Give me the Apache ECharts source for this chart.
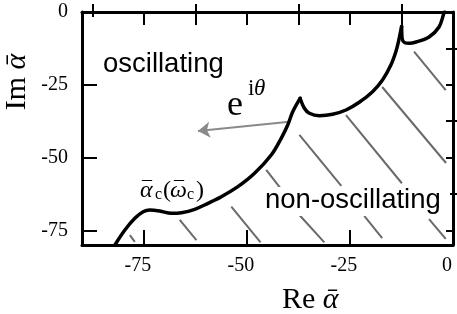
<!DOCTYPE html>
<html>
<head>
<meta charset="utf-8">
<script src="https://cdn.jsdelivr.net/npm/echarts@6/dist/echarts.min.js"></script>
<style>
html,body{margin:0;padding:0;background:#fff;}
#c{width:457px;height:314px;}
</style>
</head>
<body>
<div id="c"></div>
<script>
// ---- data ----
// critical curve alpha_c(omega_c), split at its two cusps
const branch1Re = [-82.02,-79.60,-77.18,-75.17,-73.55,-71.13,-68.30,-65.88,-62.66,-59.44,-56.20,-52.19,-48.14,-44.10,-41.68,-40.09,-38.88,-37.09];
const branch1Im = [-80.0,-74.85,-70.83,-68.57,-67.98,-68.33,-69.12,-68.91,-67.74,-65.68,-63.42,-59.98,-55.38,-49.10,-43.36,-38.80,-34.23,-29.63];
const branch2Re = [-37.09,-36.05,-34.84,-32.42,-29.20,-25.96,-22.74,-19.52,-17.10,-15.07,-13.86,-13.23,-12.65,-12.46];
const branch2Im = [-29.63,-33.06,-34.78,-35.61,-35.12,-33.65,-31.00,-27.36,-23.35,-18.20,-13.63,-10.20,-6.18,-4.98];
const branch3Re = [-12.46,-12.32,-11.70,-10.60,-8.95,-5.81,-3.39,-2.18,-2.05];
const branch3Im = [-4.98,-9.30,-10.55,-10.75,-10.30,-8.58,-5.15,-0.34,0.0];

const hatchStartRe = [-9.44,-17.18,-25.96,-5.81,-37.26,-21.53,-45.31,-37.26,-53.78,-66.29,-78.39];
const hatchStartIm = [-13.6,-25.75,-35.4,-71.1,-42.2,-70.0,-54.2,-69.7,-66.8,-71.4,-76.6];
const hatchEndRe   = [-1.77,-1.69,-12.41,-1.77,-27.10,-17.18,-41.69,-31.21,-46.69,-62.25,-77.18];
const hatchEndIm   = [-26.8,-51.85,-58.8,-77.9,-59.7,-77.6,-60.8,-79.1,-79.1,-78.3,-78.9];

const arrowRe = [-39.68, -61.86];
const arrowIm = [-37.67, -40.86];

const xTickLabels = [-75, -50, -25, 0];
const xMajorTicks = [-75, -50, -25];
const xMinorTicks = [-87.5, -62.5, -37.5, -12.5];
const xTopTicks = [-75, -62.5, -50, -37.5, -25, -12.5];
const xTopShortTicks = [-87.5];
const yTickLabels = [-75, -50, -25, 0];
const yMajorTicks = [-75, -50, -25];
const yMinorTicks = [-62.5, -37.5, -12.5];
const yRightTicks = [-75, -62.5, -50, -37.5, -25, -12.5];

const regionLabels = ['oscillating', 'non-oscillating'];

// ---- chart ----
const SERIF = '"Liberation Serif", "DejaVu Serif", serif';
const SANS = '"Liberation Sans", Arial, sans-serif';
const chart = echarts.init(document.getElementById('c'), null, {renderer: 'canvas'});

function xAx(pos, opts) {
  return Object.assign({
    type: 'value', min: -90, max: 0, position: pos,
    axisLine: {show: false}, splitLine: {show: false},
    axisLabel: {show: false}, axisTick: {show: false}
  }, opts);
}
function yAx(pos, opts) {
  return Object.assign({
    type: 'value', min: -80, max: 0, position: pos,
    axisLine: {show: false}, splitLine: {show: false},
    axisLabel: {show: false}, axisTick: {show: false}
  }, opts);
}
const lineS = {show: true, onZero: false, lineStyle: {color: '#000', width: 3}};
function tick(vals, len) {
  return {show: true, inside: true, length: len, customValues: vals, lineStyle: {color: '#000', width: 2}};
}
function branch(re, im) {
  return {
    type: 'line', xAxisIndex: 0, yAxisIndex: 0, z: 4,
    showSymbol: false, symbol: 'none', silent: true, smooth: 0.35,
    lineStyle: {color: '#000', width: 3.5, join: 'round', cap: 'round'},
    data: re.map((r, i) => [r, im[i]])
  };
}
function txt(x, y, s, font, extra) {
  return Object.assign({type: 'text', x: x, y: y, z: 10,
    style: {text: s, font: font, fill: '#000', verticalAlign: 'middle'}}, extra || {});
}

const hatchData = hatchStartRe.map((r, i) => ({coords: [[r, hatchStartIm[i]], [hatchEndRe[i], hatchEndIm[i]]]}));

chart.setOption({
  animation: false,
  backgroundColor: '#fff',
  grid: {left: 82, right: 4, top: 12, bottom: 69},
  xAxis: [
    xAx('bottom', {axisLine: lineS, axisTick: tick(xMajorTicks, 15),
      axisLabel: {show: true, customValues: xTickLabels, margin: 11, padding: [0, 12, 0, 0],
        fontFamily: SERIF, fontSize: 20, color: '#000'}}),
    xAx('bottom', {axisTick: tick(xMinorTicks, 8)}),
    xAx('top', {axisLine: lineS, axisTick: tick(xTopTicks, 13)}),
    xAx('top', {axisTick: tick(xTopShortTicks, 5)})
  ],
  yAxis: [
    yAx('left', {axisLine: lineS, axisTick: tick(yMajorTicks, 15),
      axisLabel: {show: true, customValues: yTickLabels, margin: 14, padding: [8, 0, 0, 0],
        fontFamily: SERIF, fontSize: 20, color: '#000'}}),
    yAx('left', {axisTick: tick(yMinorTicks, 8)}),
    yAx('right', {axisLine: lineS, axisTick: tick(yRightTicks, 7)})
  ],
  series: [
    {
      type: 'lines', coordinateSystem: 'cartesian2d', xAxisIndex: 0, yAxisIndex: 0,
      silent: true, z: 1,
      lineStyle: {color: '#6a6a6a', width: 2, opacity: 1},
      data: hatchData
    },
    {
      type: 'lines', coordinateSystem: 'cartesian2d', xAxisIndex: 0, yAxisIndex: 0,
      silent: true, z: 3,
      symbol: ['none', 'arrow'], symbolSize: [9, 12],
      lineStyle: {color: '#8a8a8a', width: 2, opacity: 1},
      data: [{coords: [[arrowRe[0], arrowIm[0]], [arrowRe[1], arrowIm[1]]]}]
    },
    branch(branch1Re, branch1Im),
    branch(branch2Re, branch2Im),
    branch(branch3Re, branch3Im)
  ],
  graphic: [
    txt(103, 64, regionLabels[0], '27.5px ' + SANS),
    {type: 'rect', x: 262, y: 187, z: 9, shape: {width: 188, height: 29}, style: {fill: '#fff'}},
    txt(265, 200, regionLabels[1], '27.5px ' + SANS),
    // e^{i theta}
    txt(227, 106, 'e', '36px ' + SERIF),
    txt(248, 89, 'i', '23px ' + SERIF),
    txt(254, 89, 'θ', 'italic 23px ' + SERIF),
    // alpha_c(omega_c)
    txt(140, 190.5, 'α', 'italic 24px ' + SERIF),
    txt(142, 191, '¯', '20px ' + SERIF),
    txt(155, 195, 'c', '16px ' + SERIF),
    txt(163, 190.5, '(', '24px ' + SERIF),
    txt(170, 190.5, 'ω', 'italic 24px ' + SERIF),
    txt(174, 191, '¯', '20px ' + SERIF),
    txt(187, 195, 'c', '16px ' + SERIF),
    txt(196, 190.5, ')', '24px ' + SERIF),
    // axis names
    {type: 'text', x: 282, y: 300, z: 10, style: {
      text: '{r|Re }{a|α\u0304}', fill: '#000', verticalAlign: 'middle',
      rich: {r: {fontFamily: SERIF, fontSize: 30, fill: '#000'}, a: {fontFamily: SERIF, fontSize: 30, fontStyle: 'italic', fill: '#000'}}}},
    {type: 'text', x: 17, y: 82, rotation: Math.PI / 2, z: 10, style: {
      text: '{r|Im }{a|α\u0304}', fill: '#000', align: 'center', verticalAlign: 'middle',
      rich: {r: {fontFamily: SERIF, fontSize: 30, fill: '#000'}, a: {fontFamily: SERIF, fontSize: 30, fontStyle: 'italic', fill: '#000'}}}}
  ]
});
</script>
</body>
</html>
